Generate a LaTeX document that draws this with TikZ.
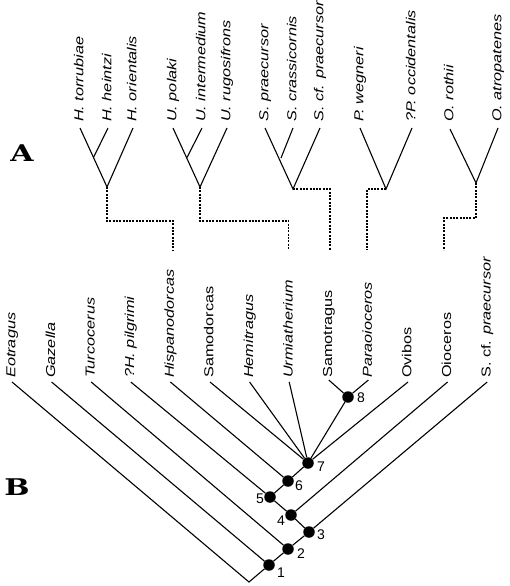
\documentclass[tikz,border=0pt]{standalone}
\usepackage{fontspec}
\usepackage{tikz}
\usetikzlibrary{positioning}
\newfontfamily\taxfont{Liberation Sans}
\newfontfamily\panelfont{DejaVu Serif}
\newcommand{\taxon}[1]{\scalebox{1.25}[1]{#1}}
\tikzset{
  leaf/.style={rotate=90, anchor=west, inner sep=0pt, text height=9.5pt, text depth=2.7pt,
    font=\taxfont\fontsize{13}{15}\selectfont},
  branch/.style={line width=1.1pt},
  link/.style={line width=1.2pt, dash pattern=on 2pt off 1.3pt},
  dot/.style={circle, fill=black, inner sep=0pt, minimum size=11.5pt},
  num/.style={font=\taxfont\fontsize{14}{16}\selectfont, inner sep=0pt},
  panel/.style={font=\panelfont\bfseries\fontsize{23}{25}\selectfont, inner sep=0pt}
}

\begin{document}
\begin{tikzpicture}[x=1pt, y=-1pt]
  \useasboundingbox (0,0) rectangle (510,586);
  \node[panel] (pA) at (22,153) {\scalebox{1.3}[1]{A}};
  \node[panel] (pB) at (17,487) {\scalebox{1.3}[1]{B}};

  % A: species level
  \begin{scope}
    \coordinate (topbase) at (0,122);
    \coordinate (h1) at (80,128);
    \coordinate (h2) at (108,128);
    \coordinate (h3) at (133,128);
    \coordinate (hi) at (93.5,157.5);
    \coordinate (hr) at (107,187);
    \coordinate (u1) at (173,128);
    \coordinate (u2) at (202,128);
    \coordinate (u3) at (227,128);
    \coordinate (ui) at (187,157.5);
    \coordinate (ur) at (200,187);
    \coordinate (s1) at (265,128);
    \coordinate (s2) at (293,128);
    \coordinate (s3) at (320,128);
    \coordinate (si) at (281,158);
    \coordinate (sr) at (293,189);
    \coordinate (p1) at (360,128);
    \coordinate (p2) at (412,128);
    \coordinate (pr) at (386,189);
    \coordinate (o1) at (450,129);
    \coordinate (o2) at (498,128);
    \coordinate (or) at (476,183);

    \node[leaf] (th1) at (h1 |- topbase) {\taxon{\itshape H. torrubiae}};
    \node[leaf] (th2) at (h2 |- topbase) {\taxon{\itshape H. heintzi}};
    \node[leaf] (th3) at (h3 |- topbase) {\taxon{\itshape H. orientalis}};
    \node[leaf] (tu1) at (u1 |- topbase) {\taxon{\itshape U. polaki}};
    \node[leaf] (tu2) at (u2 |- topbase) {\taxon{\itshape U. intermedium}};
    \node[leaf] (tu3) at (u3 |- topbase) {\taxon{\itshape U. rugosifrons}};
    \node[leaf] (ts1) at (s1 |- topbase) {\taxon{\itshape S. praecursor}};
    \node[leaf] (ts2) at (s2 |- topbase) {\taxon{\itshape S. crassicornis}};
    \node[leaf] (ts3) at (s3 |- topbase) {\taxon{\itshape S. cf. praecursor}};
    \node[leaf] (tp1) at (p1 |- topbase) {\taxon{\itshape P. wegneri}};
    \node[leaf] (tp2) at (p2 |- topbase) {\taxon{\itshape ?P. occidentalis}};
    \node[leaf] (to1) at (o1 |- topbase) {\taxon{\itshape O. rothii}};
    \node[leaf] (to2) at (o2 |- topbase) {\taxon{\itshape O. atropatenes}};

    \draw[branch] (h1) -- (hr) -- (h3);
    \draw[branch] (hi) -- (h2);
    \draw[branch] (u1) -- (ur) -- (u3);
    \draw[branch] (ui) -- (u2);
    \draw[branch] (s1) -- (sr) -- (s3);
    \draw[branch] (si) -- (s2);
    \draw[branch] (p1) -- (pr) -- (p2);
    \draw[branch] (o1) -- (or) -- (o2);
  \end{scope}

  % B: genus level
  \begin{scope}
    \coordinate (lowbase) at (0,378);
    \coordinate (eot) at (12,382);
    \coordinate (gaz) at (51.6,382);
    \coordinate (tur) at (91.2,382);
    \coordinate (pil) at (130.8,382);
    \coordinate (his) at (170.4,382);
    \coordinate (samd) at (210,382);
    \coordinate (hem) at (249.6,382);
    \coordinate (urm) at (289.2,382);
    \coordinate (samt) at (328.8,380);
    \coordinate (par) at (368.4,380);
    \coordinate (ovi) at (408,382);
    \coordinate (oio) at (447.6,382);
    \coordinate (scf) at (487.2,382);
    \coordinate (root) at (249,582);

    \node[leaf] (teot) at (eot |- lowbase) {\taxon{\itshape Eotragus}};
    \node[leaf] (tgaz) at (gaz |- lowbase) {\taxon{\itshape Gazella}};
    \node[leaf] (ttur) at (tur |- lowbase) {\taxon{\itshape Turcocerus}};
    \node[leaf] (tpil) at (pil |- lowbase) {\taxon{\itshape ?H. pilgrimi}};
    \node[leaf] (this) at (his |- lowbase) {\taxon{\itshape Hispanodorcas}};
    \node[leaf] (tsamd) at (samd |- lowbase) {\taxon{Samodorcas}};
    \node[leaf] (them) at (hem |- lowbase) {\taxon{\itshape Hemitragus}};
    \node[leaf] (turm) at (urm |- lowbase) {\taxon{\itshape Urmiatherium}};
    \node[leaf] (tsamt) at (samt |- lowbase) {\taxon{Samotragus}};
    \node[leaf] (tpar) at (par |- lowbase) {\taxon{\itshape Paraoioceros}};
    \node[leaf] (tovi) at (ovi |- lowbase) {\taxon{Ovibos}};
    \node[leaf] (toio) at (oio |- lowbase) {\taxon{Oioceros}};
    \node[leaf] (tscf) at (scf |- lowbase) {\taxon{S. cf. \itshape praecursor}};

    \node[dot] (n1) at (269,565) {};
    \node[dot] (n2) at (288,549) {};
    \node[dot] (n3) at (309,532) {};
    \node[dot] (n4) at (291,515) {};
    \node[dot] (n5) at (270,497) {};
    \node[dot] (n6) at (288,481) {};
    \node[dot] (n7) at (308,463) {};
    \node[dot] (n8) at (348,397) {};
    \node[num] (l1) at (281,573) {1};
    \node[num] (l2) at (301,554) {2};
    \node[num] (l3) at (321,535) {3};
    \node[num] (l4) at (281,521) {4};
    \node[num] (l5) at (260,499) {5};
    \node[num] (l6) at (299,486) {6};
    \node[num] (l7) at (321,467) {7};
    \node[num] (l8) at (361,398) {8};

    \draw[branch] (eot) -- (root) -- (n1) -- (n2) -- (n3) -- (scf);
    \draw[branch] (n1) -- (gaz);
    \draw[branch] (n2) -- (tur);
    \draw[branch] (n3) -- (n4) -- (n5) -- (n6) -- (n7) -- (ovi);
    \draw[branch] (n4) -- (oio);
    \draw[branch] (n5) -- (pil);
    \draw[branch] (n6) -- (his);
    \draw[branch] (n7) -- (samd);
    \draw[branch] (n7) -- (hem);
    \draw[branch] (n7) -- (urm);
    \draw[branch] (n7) -- (n8);
    \draw[branch] (n8) -- (samt);
    \draw[branch] (n8) -- (par);
  \end{scope}

  % dashed links from A to B
  \coordinate (hisd) at (173,250);
  \coordinate (urmd) at (288.7,250);
  \coordinate (samtd) at (330,250);
  \coordinate (pard) at (367,250);
  \coordinate (oiod) at (444,250);
  \draw[link] (hr) -- ++(0,34) -| (hisd);
  \draw[link] (ur) -- ++(0,34) -| (urmd);
  \draw[link] (sr) -| (samtd);
  \draw[link] (pr) -| (pard);
  \draw[link] (or) -- ++(0,35) -| (oiod);
\end{tikzpicture}
\end{document}
